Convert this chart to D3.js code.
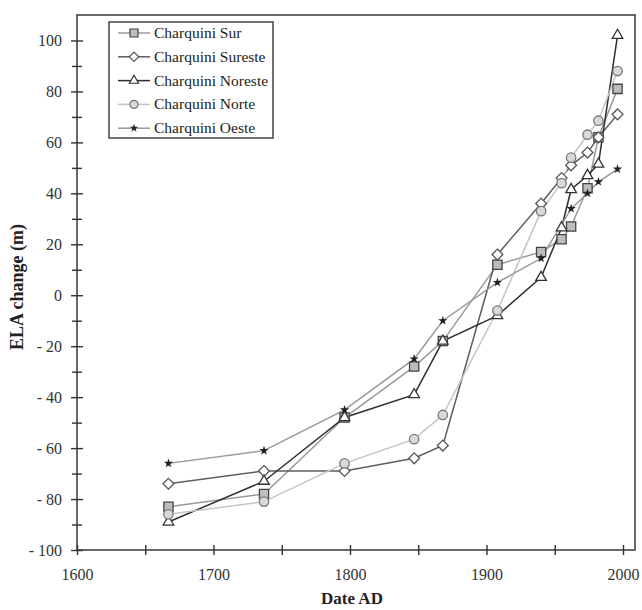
<!DOCTYPE html>
<html>
<head>
<meta charset="utf-8">
<script src="https://cdn.jsdelivr.net/npm/d3@7"></script>
<style>
  body { margin: 0; background: #fff; }
  text { font-family: "Liberation Serif", "Times New Roman", serif; }
</style>
</head>
<body>
<svg id="chart" width="642" height="610"></svg>
<script>
'use strict';

// survey dates (moraines + aerial photos)
var years = [1667, 1737, 1796, 1847, 1868, 1908, 1940, 1955, 1962, 1974, 1982, 1996];

var sur     = [-83, -78, -48, -28, -18,  12,  17,  22,  27,  42,  62,  81];
var sureste = [-74, -69, -69, -64, -59,  16,  36,  46,  51,  56,  62,  71];
var noreste = [-89, -73, -48, -39, -18,  -8,   7,  26.5, 41.5, 47, 51.5, 102];
var norte   = [-86, -81, -66, -56.5, -47, -6,  33,  44,  54,  63,  68.5, 88];
var oeste   = [-66, -61, -45, -25, -10,   5,  14.5, null, 34,  40,  44.5, 49.5];

var seriesNames = ['Charquini Sur', 'Charquini Sureste', 'Charquini Noreste', 'Charquini Norte', 'Charquini Oeste'];

var yTicksMajor = d3.range(-100, 101, 20);
var yTicksMinor = d3.range(-90, 100, 20);
var xTicks = d3.range(1600, 2001, 50);

var series = [
    {name: seriesNames[0], values: sur,     line: '#9a9a9a', symbol: d3.symbolSquare,    size: 85, fill: '#bdbdbd', stroke: '#444'},
    {name: seriesNames[1], values: sureste, line: '#5e5e5e', symbol: d3.symbolDiamond2,  size: 75, fill: '#fff',    stroke: '#555'},
    {name: seriesNames[2], values: noreste, line: '#2e2e2e', symbol: d3.symbolTriangle2, size: 80, fill: '#fff',    stroke: '#333'},
    {name: seriesNames[3], values: norte,   line: '#c4c4c4', symbol: d3.symbolCircle,    size: 70, fill: '#d8d8d8', stroke: '#777'},
    {name: seriesNames[4], values: oeste,   line: '#999999', symbol: d3.symbolStar,      size: 9,  fill: '#222',    stroke: '#222'}
];

var svg = d3.select('#chart');

var plotLeft = 77, plotRight = 635, plotTop = 15, plotBottom = 550;

var x = d3.scaleLinear().domain([1600, 2000]).range([plotLeft, 623]);
var y = d3.scaleLinear().domain([-100, 110]).range([plotBottom, plotTop]);

// frame
svg.append('rect')
    .attr('x', plotLeft).attr('y', plotTop)
    .attr('width', plotRight - plotLeft).attr('height', plotBottom - plotTop)
    .attr('fill', 'none')
    .attr('stroke', '#444')
    .attr('stroke-width', 1.6);

// y axis
var yAxis = svg.append('g')
    .attr('transform', 'translate(' + plotLeft + ',0)')
    .call(d3.axisLeft(y).tickValues(yTicksMajor).tickSize(6).tickPadding(9)
        .tickFormat(function(d) { return d < 0 ? '- ' + Math.abs(d) : d; }));
yAxis.select('.domain').remove();
yAxis.selectAll('.tick line').attr('x1', 6).attr('stroke', '#333').attr('stroke-width', 1.4);
yAxis.selectAll('.tick text')
    .attr('font-family', '"Liberation Serif", serif')
    .attr('font-size', 16).attr('fill', '#333');

var yMinor = svg.append('g')
    .attr('transform', 'translate(' + plotLeft + ',0)')
    .call(d3.axisLeft(y).tickValues(yTicksMinor).tickSize(5).tickFormat(''));
yMinor.select('.domain').remove();
yMinor.selectAll('.tick line').attr('x1', 5).attr('stroke', '#333').attr('stroke-width', 1.4);

// x axis
var xAxis = svg.append('g')
    .attr('transform', 'translate(0,' + plotBottom + ')')
    .call(d3.axisBottom(x).tickValues(xTicks).tickSize(5).tickPadding(14)
        .tickFormat(function(d) { return d % 100 === 0 ? d : ''; }));
xAxis.select('.domain').remove();
xAxis.selectAll('.tick line').attr('y1', -5).attr('stroke', '#333').attr('stroke-width', 1.4);
xAxis.selectAll('.tick text')
    .attr('font-family', '"Liberation Serif", serif')
    .attr('font-size', 16).attr('fill', '#333');

// axis titles
svg.append('text')
    .attr('transform', 'translate(23,287) rotate(-90)')
    .attr('text-anchor', 'middle')
    .attr('font-weight', 'bold')
    .attr('font-size', 18)
    .attr('fill', '#222')
    .text('ELA change (m)');

svg.append('text')
    .attr('x', 352).attr('y', 604)
    .attr('text-anchor', 'middle')
    .attr('font-weight', 'bold')
    .attr('font-size', 17)
    .attr('fill', '#222')
    .text('Date AD');

// lines
var line = d3.line()
    .x(function(d) { return x(d[0]); })
    .y(function(d) { return y(d[1]); });

function points(s) {
    return years.map(function(yr, i) { return [yr, s.values[i]]; })
        .filter(function(d) { return d[1] !== null; });
}

series.forEach(function(s) {
    svg.append('path')
        .datum(points(s))
        .attr('fill', 'none')
        .attr('stroke', s.line)
        .attr('stroke-width', 1.5)
        .attr('d', line);
});

// markers
series.forEach(function(s) {
    svg.append('g').selectAll('path')
        .data(points(s))
        .enter().append('path')
        .attr('transform', function(d) { return 'translate(' + x(d[0]) + ',' + y(d[1]) + ')'; })
        .attr('d', d3.symbol().type(s.symbol).size(s.size))
        .attr('fill', s.fill)
        .attr('stroke', s.stroke)
        .attr('stroke-width', 1.3);
});

// legend
var legend = svg.append('g');
legend.append('rect')
    .attr('x', 109).attr('y', 22)
    .attr('width', 164).attr('height', 116)
    .attr('fill', '#fff')
    .attr('stroke', '#444')
    .attr('stroke-width', 1.5);

var rows = legend.selectAll('g.row')
    .data(series)
    .enter().append('g')
    .attr('class', 'row')
    .attr('transform', function(d, i) { return 'translate(0,' + (33 + i * 23.8) + ')'; });

rows.append('line')
    .attr('x1', 118).attr('x2', 150)
    .attr('stroke', function(d) { return d.line; })
    .attr('stroke-width', 1.5);

rows.append('path')
    .attr('transform', 'translate(134,0)')
    .attr('d', function(d) { return d3.symbol().type(d.symbol).size(d.size * 0.75)(); })
    .attr('fill', function(d) { return d.fill; })
    .attr('stroke', function(d) { return d.stroke; })
    .attr('stroke-width', 1.2);

rows.append('text')
    .attr('x', 154).attr('y', 5)
    .attr('font-size', 15.5)
    .attr('fill', '#222')
    .text(function(d) { return d.name; });
</script>
</body>
</html>
